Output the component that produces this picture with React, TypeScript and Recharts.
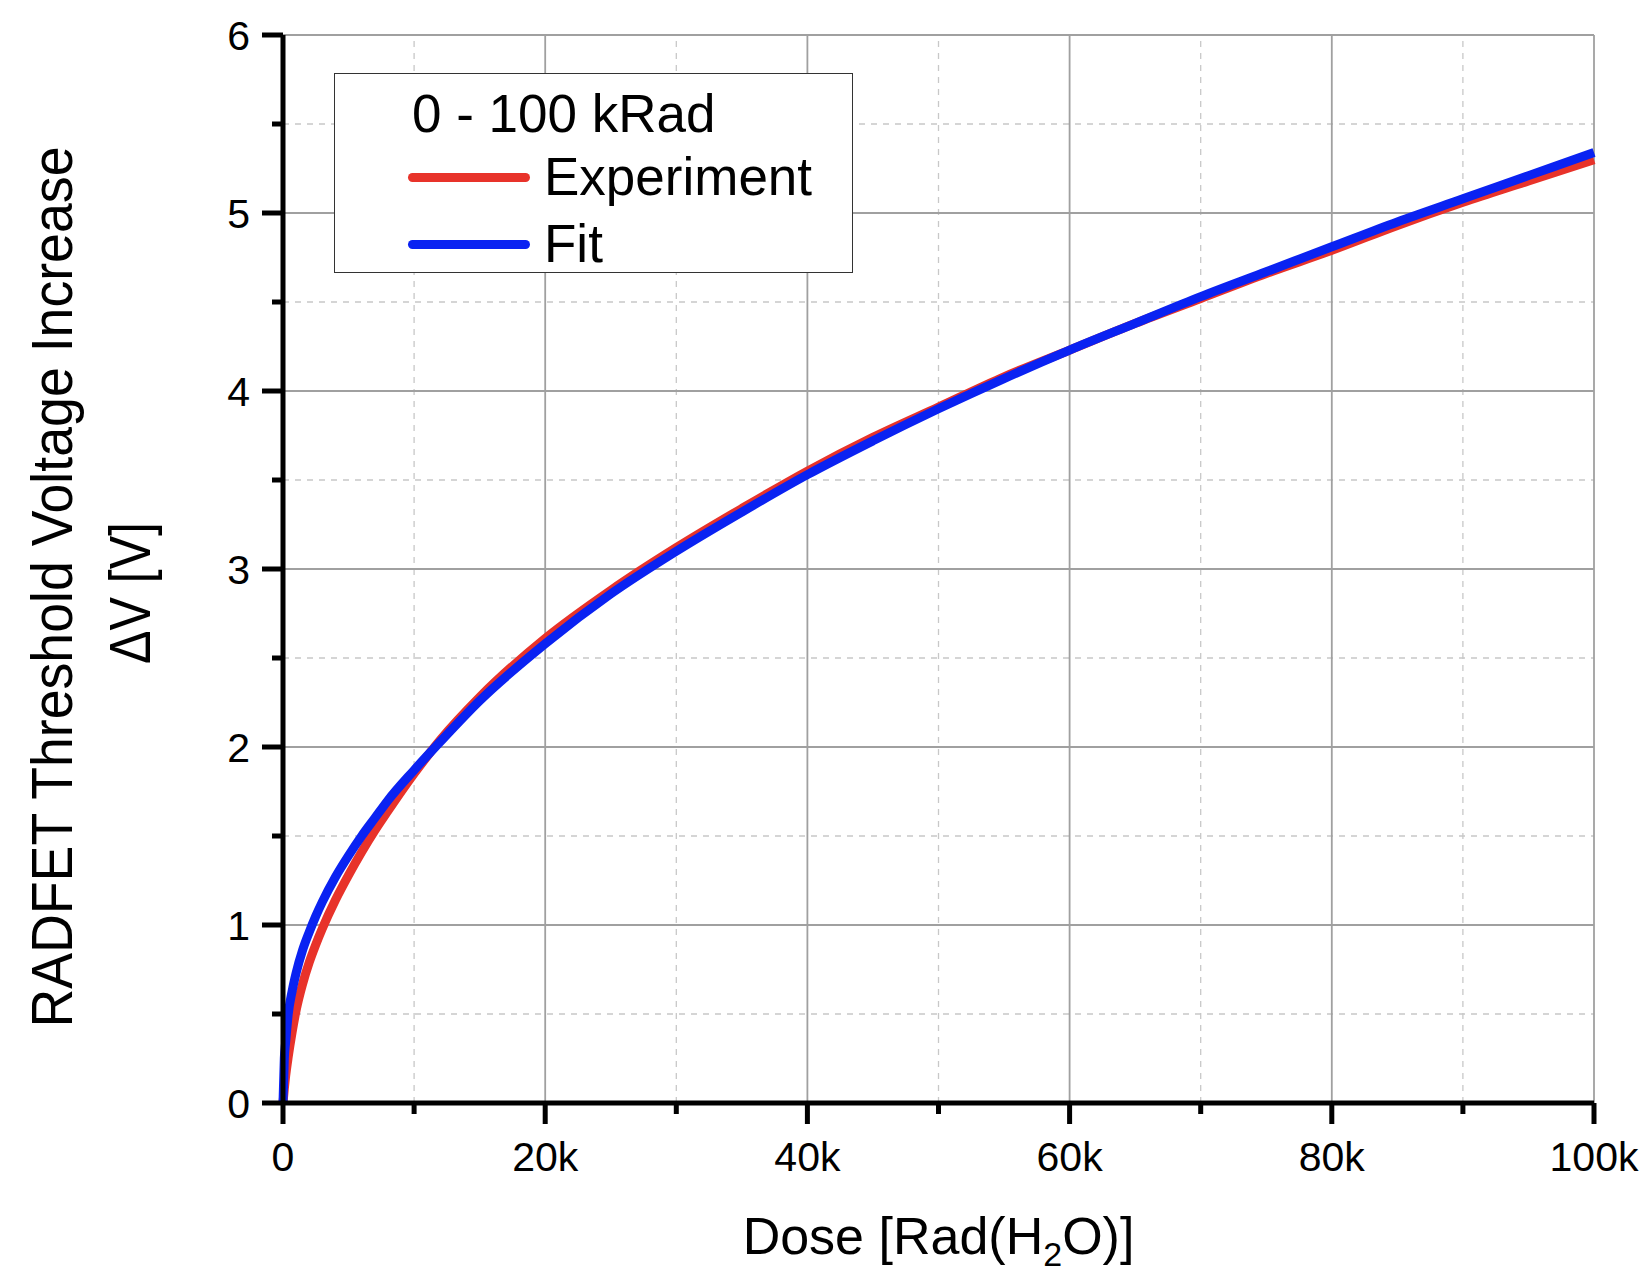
import { LineChart, Line, XAxis, YAxis, ReferenceLine } from 'recharts';

// dose in Rad(H2O)
const doses = [
    0, 100, 200, 400, 700, 1000, 1500, 2000, 2500, 3000, 4000, 5000, 6000,
    7000, 8000, 10000, 12000, 15000, 20000, 25000, 30000, 35000, 40000,
    45000, 50000, 55000, 60000, 65000, 70000, 75000, 80000, 85000, 90000,
    95000, 100000,
];
const experiment = [
    0, 0.08, 0.15, 0.26, 0.4, 0.52, 0.67, 0.79, 0.89, 0.98, 1.14, 1.28, 1.41,
    1.53, 1.64, 1.85, 2.04, 2.28, 2.61, 2.88, 3.12, 3.34, 3.55,
    3.74, 3.91, 4.08, 4.23, 4.38, 4.52, 4.66, 4.79, 4.93, 5.06,
    5.18, 5.3,
];
const fit = [
    0, 0.25, 0.34, 0.5, 0.63, 0.73, 0.86, 0.96, 1.05, 1.13, 1.27, 1.39, 1.5,
    1.6, 1.7, 1.87, 2.03, 2.26, 2.58, 2.86, 3.1, 3.32, 3.53,
    3.72, 3.9, 4.07, 4.23, 4.38, 4.53, 4.67, 4.81, 4.95, 5.08,
    5.21, 5.34,
];

const xTicks = [0, 10000, 20000, 30000, 40000, 50000, 60000, 70000, 80000, 90000, 100000];
const yTicks = [0, 0.5, 1, 1.5, 2, 2.5, 3, 3.5, 4, 4.5, 5, 5.5, 6];
const xMajorGrid = [20000, 40000, 60000, 80000, 100000];
const xMinorGrid = [10000, 30000, 50000, 70000, 90000];
const yMajorGrid = [1, 2, 3, 4, 5, 6];
const yMinorGrid = [0.5, 1.5, 2.5, 3.5, 4.5, 5.5];

const legendTitle = '0 - 100 kRad';
const seriesNames = ['Experiment', 'Fit'];
const RED = '#e8332a';
const BLUE = '#0a22f2';

const FONT = '"Liberation Sans", Arial, sans-serif';

function XTick({ x, y, payload }: any) {
    const v = payload.value;
    const major = v % 20000 === 0;
    return (
        <g>
            <line x1={x} x2={x} y1={y} y2={y + (major ? 21 : 11)} stroke="#000" strokeWidth={5} />
            {major && (
                <text x={x} y={y + 68} textAnchor="middle" fontSize={41} fill="#000">
                    {v === 0 ? '0' : `${v / 1000}k`}
                </text>
            )}
        </g>
    );
}

function YTick({ x, y, payload }: any) {
    const v = payload.value;
    const major = Number.isInteger(v);
    return (
        <g>
            <line x1={x - (major ? 21 : 11)} x2={x} y1={y} y2={y} stroke="#000" strokeWidth={5} />
            {major && (
                <text x={x - 33} y={y + 15} textAnchor="end" fontSize={41} fill="#000">
                    {v}
                </text>
            )}
        </g>
    );
}

function XTitle({ viewBox }: any) {
    const cx = viewBox.x + viewBox.width / 2;
    return (
        <text x={cx} y={1254} textAnchor="middle" fontSize={52} fill="#000">
            Dose [Rad(H
            <tspan dy={12} fontSize={34}>2</tspan>
            <tspan dy={-12}>O)]</tspan>
        </text>
    );
}

function YTitle() {
    return (
        <g>
            <text
                x={72}
                y={587}
                transform="rotate(-90, 72, 587)"
                textAnchor="middle"
                fontSize={57}
                fill="#000"
                textLength={881}
                lengthAdjust="spacingAndGlyphs"
            >
                RADFET Threshold Voltage Increase
            </text>
            <text
                x={150}
                y={593}
                transform="rotate(-90, 150, 593)"
                textAnchor="middle"
                fontSize={57}
                fill="#000"
                textLength={142}
                lengthAdjust="spacingAndGlyphs"
            >
                ΔV [V]
            </text>
        </g>
    );
}

export default function App() {
    const data = doses.map((d, i) => ({
        dose: d,
        experiment: experiment[i],
        fit: fit[i],
    }));

    return (
        <div
            style={{
                position: 'absolute',
                left: 0,
                top: 0,
                width: 1648,
                height: 1273,
                background: '#ffffff',
                fontFamily: FONT,
            }}
        >
            <LineChart
                width={1648}
                height={1273}
                data={data}
                margin={{ top: 35, right: 54, left: 203, bottom: 90 }}
            >
                {yMinorGrid.map((v) => (
                    <ReferenceLine key={`ym-${v}`} y={v} stroke="#c8c8c8" strokeWidth={1.3} strokeDasharray="6 6" />
                ))}
                {xMinorGrid.map((v) => (
                    <ReferenceLine key={`xm-${v}`} x={v} stroke="#c8c8c8" strokeWidth={1.3} strokeDasharray="6 6" />
                ))}
                {yMajorGrid.map((v) => (
                    <ReferenceLine key={`yM-${v}`} y={v} stroke="#a0a0a0" strokeWidth={1.8} />
                ))}
                {xMajorGrid.map((v) => (
                    <ReferenceLine key={`xM-${v}`} x={v} stroke="#a0a0a0" strokeWidth={1.8} />
                ))}
                <XAxis
                    dataKey="dose"
                    type="number"
                    domain={[0, 100000]}
                    ticks={xTicks}
                    interval={0}
                    height={80}
                    tickSize={0}
                    tickMargin={0}
                    tickLine={false}
                    axisLine={{ stroke: '#000', strokeWidth: 5 }}
                    tick={<XTick />}
                    label={<XTitle />}
                />
                <YAxis
                    type="number"
                    domain={[0, 6]}
                    ticks={yTicks}
                    interval={0}
                    width={80}
                    tickSize={0}
                    tickMargin={0}
                    tickLine={false}
                    axisLine={{ stroke: '#000', strokeWidth: 5 }}
                    tick={<YTick />}
                    label={<YTitle />}
                />
                <Line
                    dataKey="experiment"
                    name={seriesNames[0]}
                    type="monotone"
                    stroke={RED}
                    strokeWidth={9}
                    dot={false}
                    isAnimationActive={false}
                />
                <Line
                    dataKey="fit"
                    name={seriesNames[1]}
                    type="monotone"
                    stroke={BLUE}
                    strokeWidth={9}
                    dot={false}
                    isAnimationActive={false}
                />
            </LineChart>

            {/* legend box */}
            <div
                style={{
                    position: 'absolute',
                    left: 334,
                    top: 73,
                    width: 517,
                    height: 198,
                    border: '1.5px solid #333',
                    background: '#ffffff',
                    fontSize: 53,
                    color: '#000',
                }}
            >
                <div style={{ position: 'absolute', left: 77, top: 10, height: 60, lineHeight: '60px', whiteSpace: 'nowrap' }}>
                    {legendTitle}
                </div>
                {seriesNames.map((name, i) => (
                    <div key={name}>
                        <div
                            style={{
                                position: 'absolute',
                                left: 73,
                                top: (i === 0 ? 103 : 170) - 4.5,
                                width: 122,
                                height: 9,
                                borderRadius: 4.5,
                                background: i === 0 ? RED : BLUE,
                            }}
                        />
                        <div
                            style={{
                                position: 'absolute',
                                left: 209,
                                top: (i === 0 ? 103 : 170) - 30,
                                height: 60,
                                lineHeight: '60px',
                                whiteSpace: 'nowrap',
                            }}
                        >
                            {name}
                        </div>
                    </div>
                ))}
            </div>
        </div>
    );
}
